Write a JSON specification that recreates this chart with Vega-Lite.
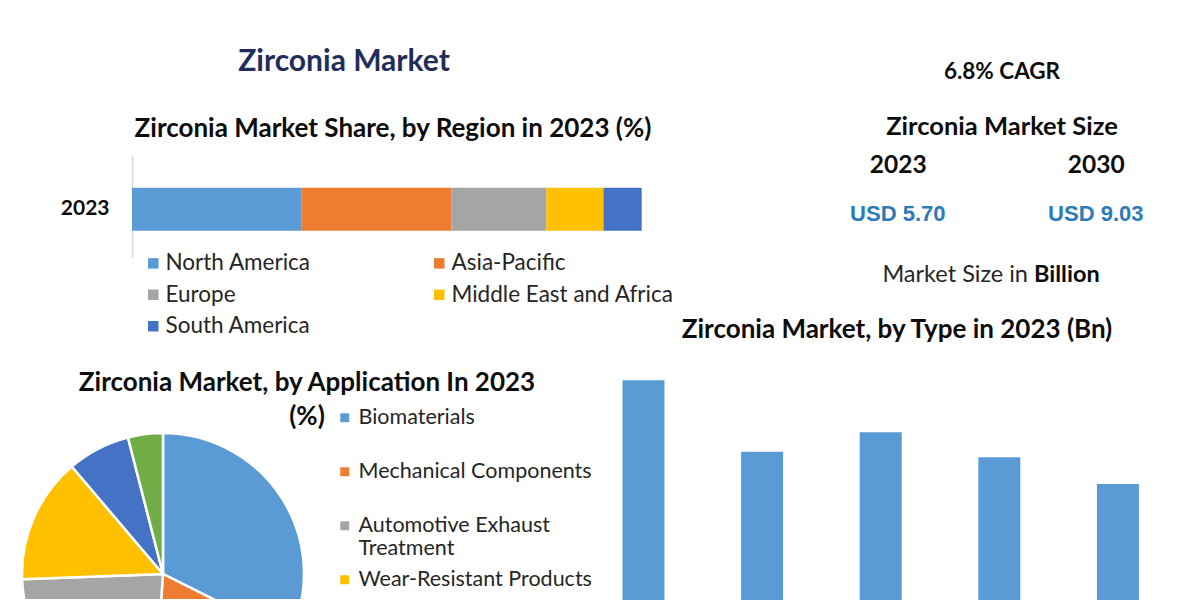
{
  "$schema": "https://vega.github.io/schema/vega-lite/v6.json",
  "background": "white",
  "padding": {"left": 22, "top": 47, "right": 6, "bottom": 0},
  "config": {
    "font": "Lato",
    "view": {"stroke": null},
    "locale": {"number": {"decimal": ".", "thousands": ",", "grouping": [3], "currency": ["USD ", ""]}},
    "title": {"color": "#0D0D0D", "fontWeight": "bold", "font": "Lato"}
  },
  "bounds": "flush",
  "spacing": 578,
  "resolve": {"scale": {"x": "independent", "y": "independent", "color": "independent"}, "legend": {"color": "independent"}},
  "hconcat": [
    {
      "title": {"text": "Zirconia Market", "anchor": "middle", "fontSize": 30, "color": "#1F2D5A", "offset": 38.7, "dx": -4},
      "spacing": 32,
      "resolve": {"scale": {"x": "independent", "y": "independent", "color": "independent"}, "legend": {"color": "independent"}},
      "vconcat": [
        {
          "width": 620,
          "height": 103,
          "title": {"text": "Zirconia Market Share, by Region in 2023 (%)", "anchor": "middle", "frame": "group", "fontSize": 26, "offset": 13, "dx": 61},
          "data": {"values": [
            {"year": "2023", "region": "North America", "share": 33.3},
            {"year": "2023", "region": "Asia-Pacific", "share": 29.4},
            {"year": "2023", "region": "Europe", "share": 18.6},
            {"year": "2023", "region": "Middle East and Africa", "share": 11.2},
            {"year": "2023", "region": "South America", "share": 7.5}
          ]},
          "transform": [{"window": [{"op": "row_number", "as": "o"}]}],
          "mark": {"type": "bar"},
          "encoding": {
            "y": {"field": "year", "type": "nominal", "scale": {"paddingInner": 0.41, "paddingOuter": 0.41, "align": 0.545},
                  "axis": {"title": null, "ticks": false, "offset": -110, "labelFontSize": 21, "labelFontWeight": "bold", "labelColor": "#0D0D0D", "labelPadding": 23, "domainColor": "#D9D9D9", "domainWidth": 1.5}},
            "x": {"field": "share", "type": "quantitative", "stack": "zero", "scale": {"domain": [0, 100], "range": [110, 619.7]}, "axis": null},
            "order": {"field": "o"},
            "color": {"field": "region", "type": "nominal",
                      "scale": {"domain": ["North America", "Asia-Pacific", "Europe", "Middle East and Africa", "South America"],
                                "range": ["#5B9BD5", "#ED7D31", "#A5A5A5", "#FFC000", "#4472C4"]},
                      "legend": {"orient": "none", "legendX": 120, "legendY": 97, "columns": 2, "direction": "horizontal", "title": null, "symbolType": "square", "symbolSize": 110, "symbolStrokeWidth": 0, "labelFontSize": 22.5, "labelColor": "#262626", "labelOffset": 1, "columnPadding": 117, "rowPadding": 8.5, "labelLimit": 400}}
          }
        },
        {
          "width": 282,
          "height": 166,
          "title": {"text": ["Zirconia Market, by Application In 2023", "(%)"], "anchor": "middle", "fontSize": 26, "lineHeight": 34, "offset": -23, "dx": 144},
          "data": {"values": [
            {"application": "Biomaterials", "share": 32.4},
            {"application": "Mechanical Components", "share": 18.7},
            {"application": "Automotive Exhaust Treatment", "share": 23.3},
            {"application": "Wear-Resistant Products", "share": 14.4},
            {"application": "Electronics", "share": 7.2},
            {"application": "Others", "share": 4.0}
          ]},
          "transform": [{"window": [{"op": "row_number", "as": "o"}]}],
          "mark": {"type": "arc", "stroke": "white", "strokeWidth": 2.5, "clip": true, "radius": 141, "x": 141, "y": 141},
          "encoding": {
            "theta": {"field": "share", "type": "quantitative", "stack": true},
            "order": {"field": "o"},
            "color": {"field": "application", "type": "nominal",
                      "scale": {"domain": ["Biomaterials", "Mechanical Components", "Automotive Exhaust Treatment", "Wear-Resistant Products", "Electronics", "Others"],
                                "range": ["#5B9BD5", "#ED7D31", "#A5A5A5", "#FFC000", "#4472C4", "#70AD47"]},
                      "legend": {"orient": "none", "legendX": 312, "legendY": -26, "title": null, "columns": 1, "gridAlign": "all",
                                 "values": ["Biomaterials", "Mechanical Components", "Automotive Exhaust Treatment", "Wear-Resistant Products"],
                                 "symbolType": "square", "symbolSize": 80, "symbolStrokeWidth": 0, "labelFontSize": 21.5, "labelColor": "#262626", "labelOffset": 3, "rowPadding": 8, "labelLimit": 400,
                                 "labelExpr": "datum.label == 'Automotive Exhaust Treatment' ? ['Automotive Exhaust', 'Treatment'] : datum.label"}}
          }
        }
      ]
    },
    {
      "spacing": 30,
      "resolve": {"scale": {"x": "independent", "y": "independent"}},
      "vconcat": [
        {
          "width": 594,
          "height": 118,
          "title": {"text": "6.8% CAGR", "anchor": "middle", "fontSize": 22.5, "dx": 105,
                    "subtitle": "Zirconia Market Size", "subtitleFont": "Lato", "subtitleFontSize": 25.5, "subtitleFontWeight": "bold", "subtitleColor": "#0D0D0D", "subtitlePadding": 32, "offset": 11.5},
          "data": {"values": [
            {"year": "2023", "size": 5.70},
            {"year": "2030", "size": 9.03}
          ]},
          "layer": [
            {
              "mark": {"type": "text", "font": "Liberation Sans", "fontWeight": "bold", "fontSize": 22, "color": "#2B7BBA"},
              "encoding": {
                "x": {"field": "year", "type": "ordinal", "scale": {"type": "point", "padding": 1.01, "align": 0.752},
                      "axis": {"orient": "top", "title": null, "ticks": false, "domain": false, "labelFontSize": 24.5, "labelFontWeight": "bold", "labelColor": "#0D0D0D", "labelPadding": -22, "labelAngle": 0}},
                "text": {"field": "size", "type": "quantitative", "format": "$.2f"}
              }
            },
            {
              "data": {"values": [{"lead": "Market Size in", "unit": "Billion"}]},
              "layer": [
                {"mark": {"type": "text", "align": "right", "baseline": "middle", "y": "height", "dx": 131, "dy": 2, "fontSize": 23.5, "color": "#262626"},
                 "encoding": {"text": {"field": "lead"}}},
                {"mark": {"type": "text", "align": "left", "baseline": "middle", "y": "height", "dx": 137, "dy": 2, "fontSize": 23.5, "fontWeight": "bold", "color": "#0D0D0D"},
                 "encoding": {"text": {"field": "unit"}}}
              ]
            }
          ]
        },
        {
          "width": 594,
          "height": 250,
          "title": {"text": "Zirconia Market, by Type in 2023 (Bn)", "anchor": "middle", "fontSize": 26, "offset": 7},
          "data": {"values": [
            {"type": "Monoclinic", "value": 1.48},
            {"type": "Tetragonal", "value": 1.08},
            {"type": "Cubic", "value": 1.19},
            {"type": "Yttria-Stabilized", "value": 1.05},
            {"type": "Others", "value": 0.90}
          ]},
          "mark": {"type": "bar", "color": "#5B9BD5", "clip": true},
          "encoding": {
            "x": {"field": "type", "type": "nominal", "sort": null, "scale": {"paddingInner": 0.646, "paddingOuter": 0.327, "align": 0.29}, "axis": null},
            "y": {"field": "value", "type": "quantitative", "scale": {"domain": [0.25, 1.65], "zero": false}, "axis": null}
          }
        }
      ]
    }
  ]
}
